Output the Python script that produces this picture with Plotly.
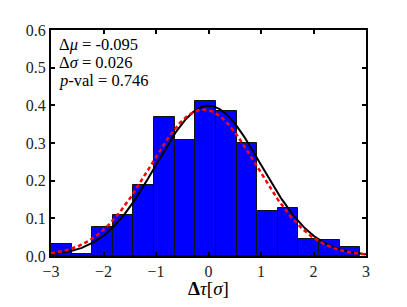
import numpy as np
import plotly.graph_objects as go

# Histogram data (density), 15 bins starting at -3.0
bin_start = -3.0
bin_width = 0.3928
heights = [0.033, 0.0065, 0.076, 0.110, 0.188, 0.369, 0.308, 0.412,
           0.386, 0.300, 0.119, 0.128, 0.044, 0.043, 0.025]

# Gaussian curves
ref_mu, ref_sigma = 0.0, 1.0          # black solid
fit_mu, fit_sigma = -0.095, 1.026     # red dashed

x_ticks = [-3, -2, -1, 0, 1, 2, 3]
x_tick_labels = ["\u22123", "\u22122", "\u22121", "0", "1", "2", "3"]
y_ticks = [0.0, 0.1, 0.2, 0.3, 0.4, 0.5, 0.6]
y_tick_labels = ["0.0", "0.1", "0.2", "0.3", "0.4", "0.5", "0.6"]

stats_lines = ["\u0394<i>\u03bc</i> = -0.095",
               "\u0394<i>\u03c3</i> = 0.026",
               "<i>p</i>-val = 0.746"]
stats_y = [0.936, 0.856, 0.776]

centers = [bin_start + (i + 0.5) * bin_width for i in range(len(heights))]

def gauss(x, mu, s):
    return np.exp(-0.5 * ((x - mu) / s) ** 2) / (s * np.sqrt(2 * np.pi))

xs = np.linspace(-3, 3, 400)

FONT = "Liberation Serif"

fig = go.Figure()
fig.add_trace(go.Bar(x=centers, y=heights, width=bin_width,
                     marker=dict(color="#0000ff", line=dict(color="#111111", width=1)),
                     showlegend=False))
fig.add_trace(go.Scatter(x=xs, y=gauss(xs, ref_mu, ref_sigma), mode="lines",
                         line=dict(color="black", width=2), showlegend=False))
fig.add_trace(go.Scatter(x=xs, y=gauss(xs, fit_mu, fit_sigma), mode="lines",
                         line=dict(color="red", width=2.5, dash="4px,3px"), showlegend=False))

for t, yy in zip(stats_lines, stats_y):
    fig.add_annotation(text=t, xref="paper", yref="paper", x=0.018, y=yy,
                       xanchor="left", yanchor="middle", showarrow=False,
                       font=dict(family=FONT, size=16.5, color="black"))

axis_common = dict(showline=True, linecolor="black", linewidth=2, mirror="ticks",
                   ticks="inside", ticklen=4, tickwidth=1.5, tickcolor="black",
                   showgrid=False, zeroline=False,
                   tickfont=dict(family=FONT, size=16, color="#222222"))

# page body has an 8px margin, so the figure is sized to fit the 407x307 window
fig.update_layout(
    width=391, height=291,
    margin=dict(l=43, r=33, t=22, b=43),
    paper_bgcolor="white", plot_bgcolor="white",
    bargap=0,
    xaxis=dict(range=[-3, 3], tickvals=x_ticks, ticktext=x_tick_labels,
               title=dict(text="<b>\u0394</b><i>\u03c4</i>[<i>\u03c3</i>]",
                          font=dict(family=FONT, size=19, color="black"), standoff=6),
               automargin=False, **axis_common),
    yaxis=dict(range=[0, 0.6], tickvals=y_ticks, ticktext=y_tick_labels,
               automargin=False, **axis_common),
)

fig.write_html("out.html")
